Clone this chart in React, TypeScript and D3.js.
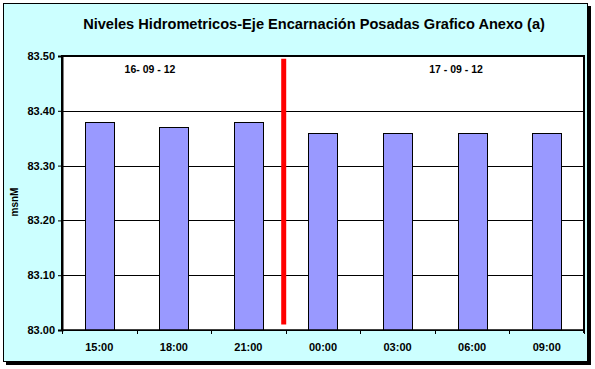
import React, { useRef, useEffect } from 'react';
import * as d3 from 'd3';

const horas = ['15:00', '18:00', '21:00', '00:00', '03:00', '06:00', '09:00'];
const niveles = [83.38, 83.37, 83.38, 83.36, 83.36, 83.36, 83.36];
const yTicks = [83.0, 83.1, 83.2, 83.3, 83.4, 83.5];
const fechas = ['16- 09 - 12', '17 - 09 - 12'];

const App = () => {
  const Svg = useRef<SVGSVGElement>(null);
  useEffect(() => {
    const width = 595;
    const height = 369;
    const left = 62;
    const right = 584;
    const top = 56;
    const bottom = 330;
    const font = '"Liberation Sans", Arial, sans-serif';

    const svg = d3.select(Svg.current).attr('width', width).attr('height', height);
    svg.selectAll('*').remove();

    // frame + shadow
    svg.append('rect').attr('x', 6).attr('y', 6).attr('width', 585).attr('height', 359).attr('fill', '#000');
    svg
      .append('rect')
      .attr('x', 3.5)
      .attr('y', 3.5)
      .attr('width', 584)
      .attr('height', 358)
      .attr('fill', '#CCFFFF')
      .attr('stroke', '#000')
      .attr('stroke-width', 1);

    svg
      .append('text')
      .attr('x', 314)
      .attr('y', 29)
      .attr('text-anchor', 'middle')
      .attr('font-family', font)
      .attr('font-size', 14.6)
      .attr('font-weight', 'bold')
      .text('Niveles Hidrometricos-Eje Encarnación Posadas Grafico Anexo (a)');

    const x = d3.scaleBand().domain(horas).range([left, right]).paddingInner(0.61).paddingOuter(0.305);
    const y = d3.scaleLinear().domain([83.0, 83.5]).range([bottom, top]);

    svg
      .append('rect')
      .attr('x', left)
      .attr('y', top)
      .attr('width', right - left)
      .attr('height', bottom - top)
      .attr('fill', '#fff');

    // gridlines
    svg
      .append('g')
      .selectAll('line')
      .data(yTicks)
      .enter()
      .append('line')
      .attr('x1', left)
      .attr('x2', right)
      .attr('y1', (d) => Math.round(y(d)) + 0.5)
      .attr('y2', (d) => Math.round(y(d)) + 0.5)
      .attr('stroke', '#000')
      .attr('stroke-width', 1);

    // bars
    svg
      .append('g')
      .selectAll('rect')
      .data(niveles)
      .enter()
      .append('rect')
      .attr('x', (d, i) => Math.round(x(horas[i])) + 0.5)
      .attr('y', (d) => Math.round(y(d)) + 0.5)
      .attr('width', Math.round(x.bandwidth()))
      .attr('height', (d) => Math.round(bottom - y(d)))
      .attr('fill', '#9999FF')
      .attr('stroke', '#000')
      .attr('stroke-width', 1);

    // plot border
    svg
      .append('path')
      .attr('d', `M${left},${bottom} V${top} H${right} V${bottom + 3}`)
      .attr('fill', 'none')
      .attr('stroke', '#000')
      .attr('stroke-width', 2);

    // y axis
    const yAxis = d3
      .axisLeft(y)
      .tickValues(yTicks)
      .tickSize(4)
      .tickPadding(3)
      .tickFormat((d) => d3.format('.2f')(d as number));
    const gy = svg.append('g').attr('transform', `translate(${left},0)`).call(yAxis);
    gy.select('.domain').attr('stroke', '#000').attr('stroke-width', 2);
    gy.selectAll('text').attr('font-family', font).attr('font-size', 11).attr('font-weight', 'bold').attr('fill', '#000');

    // x axis, ticks on band boundaries
    const step = x.step();
    const gx = svg.append('g').attr('transform', `translate(0,${bottom})`);
    gx.append('line').attr('x1', left).attr('x2', right).attr('y1', 0).attr('y2', 0).attr('stroke', '#000').attr('stroke-width', 1.5);
    gx
      .selectAll('line.tk')
      .data(d3.range(horas.length + 1))
      .enter()
      .append('line')
      .attr('class', 'tk')
      .attr('x1', (i) => Math.round(left + i * step) + 0.5)
      .attr('x2', (i) => Math.round(left + i * step) + 0.5)
      .attr('y1', 0)
      .attr('y2', 4)
      .attr('stroke', '#000');
    gx
      .selectAll('text')
      .data(horas)
      .enter()
      .append('text')
      .attr('x', (d) => x(d) + x.bandwidth() / 2)
      .attr('y', 21)
      .attr('text-anchor', 'middle')
      .attr('font-family', font)
      .attr('font-size', 11)
      .attr('font-weight', 'bold')
      .text((d) => d);

    // y title
    svg
      .append('text')
      .attr('transform', 'translate(18,202) rotate(-90)')
      .attr('text-anchor', 'middle')
      .attr('font-family', font)
      .attr('font-size', 10)
      .attr('font-weight', 'bold')
      .text('msnM');

    // day separator
    const sepX = left + 3 * step - 2;
    svg
      .append('line')
      .attr('x1', sepX)
      .attr('x2', sepX)
      .attr('y1', y(83.495))
      .attr('y2', y(83.01))
      .attr('stroke', '#FF0000')
      .attr('stroke-width', 5);

    // date labels
    svg
      .append('g')
      .selectAll('text')
      .data(fechas)
      .enter()
      .append('text')
      .attr('x', (d, i) => (i === 0 ? 150 : 456))
      .attr('y', 73)
      .attr('text-anchor', 'middle')
      .attr('font-family', font)
      .attr('font-size', 10.5)
      .attr('font-weight', 'bold')
      .text((d) => d);
  }, []);
  return (
    <div style={{ position: 'absolute', left: 0, top: 0 }}>
      <svg ref={Svg} style={{ display: 'block' }} />
    </div>
  );
};

export default App;
